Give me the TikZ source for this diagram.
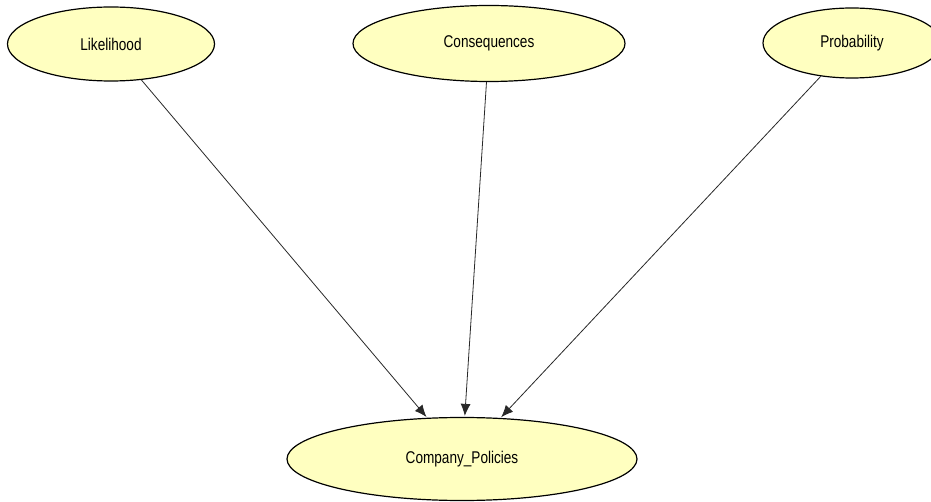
\documentclass[tikz,border=0pt]{standalone}
\usepackage{fontspec}
\setmainfont{Liberation Sans}
\usetikzlibrary{shapes.geometric,arrows.meta}
\definecolor{nodefill}{RGB}{255,255,192}
\definecolor{edgegray}{RGB}{40,40,40}
\tikzset{
  var/.style={ellipse, draw=black, line width=1.2pt, fill=nodefill, inner sep=0pt,
    font=\fontsize{17}{20}\selectfont},
  link/.style={draw=edgegray, line width=0.8pt, -{Latex[length=12pt,width=10pt]}, shorten >=1pt}
}
\newcommand{\lbl}[1]{\scalebox{0.8}[1]{#1}}
\begin{document}
\begin{tikzpicture}[x=1pt,y=-1pt]
  \clip (0,0) rectangle (931,502);
  \fill[white] (0,0) rectangle (931,502);
  \node[var, minimum width=207pt, minimum height=74pt] (lik) at (111,44) {\lbl{Likelihood}};
  \node[var, minimum width=272pt, minimum height=76pt] (con) at (489,43.5) {\lbl{Consequences}};
  \node[var, minimum width=178pt, minimum height=70pt] (pro) at (852,43) {\lbl{Probability}};
  \node[var, minimum width=350pt, minimum height=83pt] (pol) at (462,459) {\lbl{Company\_Policies}};
  \draw[link] (lik) -- (pol);
  \draw[link] (con) -- (pol);
  \draw[link] (pro) -- (pol);
\end{tikzpicture}
\end{document}
